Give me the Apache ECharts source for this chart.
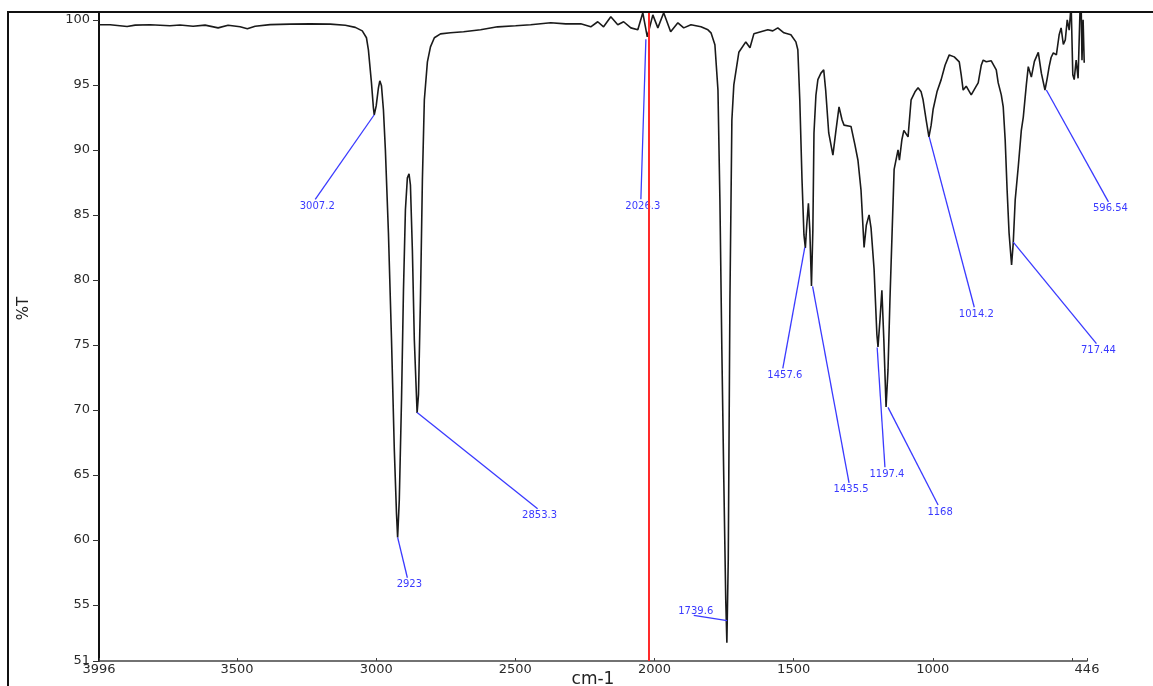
<!DOCTYPE html>
<html>
<head>
<meta charset="utf-8">
<script src="https://cdn.jsdelivr.net/npm/echarts@6/dist/echarts.min.js"></script>
<style>
  html, body { margin: 0; padding: 0; background: #fff; }
  #chart { width: 1153px; height: 686px; }
</style>
</head>
<body>
<div id="chart"></div>
<script>
// IR spectrum, wavenumber (cm-1) vs %T
const wavenumber = [
  3996,3956,3895,3866,3812,3741,3705,3658,3615,3568,
  3532,3489,3463,3435,3381,3309,3237,3165,3111,3075,
  3050,3035,3028,3017,3010,3007,3000,2992,2987,2981,
  2974,2967,2956,2945,2935,2927,2923,2917,2909,2902,
  2895,2888,2882,2877,2870,2863,2853,2848,2841,2834,
  2827,2816,2805,2791,2769,2733,2686,2625,2564,2499,
  2445,2373,2319,2265,2229,2204,2183,2157,2132,2111,
  2085,2060,2042,2026,2006,1988,1967,1942,1916,1895,
  1869,1833,1808,1797,1783,1772,1765,1758,1751,1744,
  1740,1735,1729,1722,1715,1697,1672,1657,1643,1618,
  1593,1575,1557,1535,1510,1492,1485,1478,1470,1463,
  1458,1453,1447,1442,1436,1431,1427,1420,1413,1402,
  1392,1385,1374,1359,1348,1337,1326,1319,1294,1280,
  1269,1258,1247,1239,1229,1222,1211,1201,1197,1190,
  1183,1176,1168,1161,1154,1146,1139,1125,1120,1111,
  1104,1089,1078,1064,1053,1042,1035,1024,1014,1006,
  999,985,970,956,941,934,923,905,898,891,
  880,873,862,855,844,837,826,819,808,801,
  790,783,772,765,754,747,740,733,726,717,
  711,704,693,682,675,664,657,646,635,621,
  610,597,589,582,575,567,556,546,539,531,
  524,517,510,503,497,492,485,478,471,467,
  464,460,456
]
const transmittance = [
  99.62,99.62,99.48,99.59,99.62,99.54,99.6,99.5,99.59,99.38,
  99.58,99.46,99.31,99.5,99.63,99.67,99.69,99.67,99.58,99.42,
  99.15,98.62,97.69,95.15,93.23,92.69,93.38,94.77,95.31,94.92,
  93.08,90.0,83.6,75.4,67.0,62.0,60.2,63.1,70.8,79.2,
  85.4,87.85,88.15,87.3,82.3,75.4,69.77,71.2,78.5,87.7,
  93.85,96.77,97.92,98.62,98.92,99.0,99.08,99.23,99.46,99.54,
  99.62,99.77,99.69,99.69,99.46,99.85,99.46,100.23,99.62,99.85,
  99.38,99.23,100.54,98.69,100.38,99.38,100.54,99.08,99.77,99.38,
  99.62,99.46,99.23,99.0,98.08,94.6,86.15,74.6,64.6,55.4,
  52.1,58.5,78.5,92.3,95.0,97.5,98.3,97.85,98.92,99.08,
  99.23,99.15,99.38,99.0,98.85,98.3,97.7,93.85,87.7,83.46,
  82.46,84.2,85.9,83.85,79.54,83.85,91.3,94.2,95.4,95.9,
  96.15,94.6,91.3,89.6,91.5,93.3,92.3,91.9,91.8,90.4,
  89.2,86.9,82.5,84.2,85.0,84.0,80.8,75.8,74.85,76.9,
  79.2,75.4,70.23,73.1,78.5,83.85,88.5,90.0,89.2,90.8,
  91.5,91.0,93.85,94.46,94.77,94.46,93.85,92.3,91.0,91.9,
  93.1,94.46,95.4,96.5,97.3,97.4,97.15,96.77,95.77,94.6,
  94.9,94.85,94.23,94.1,94.9,95.15,96.5,96.9,96.77,96.7,
  96.85,96.9,96.15,95.15,94.23,93.3,90.77,86.9,83.6,81.15,
  82.85,86.15,88.7,91.5,92.5,95.0,96.4,95.6,96.8,97.5,
  95.9,94.6,95.5,96.4,97.1,97.46,97.3,98.85,99.38,98.1,
  98.46,100.0,99.2,101.2,95.77,95.4,96.9,95.5,100.8,101.2,
  96.9,100.0,96.7
]

// peak annotations: where the leader starts (on the peak) and where its label sits
const peakLabels = ['3007.2', '2923', '2853.3', '2026.3', '1739.6', '1457.6', '1435.5', '1197.4', '1168', '1014.2', '717.44', '596.54']
const peakWn = [3007, 2923, 2853, 2031, 1739, 1460, 1432, 1200, 1161, 1013, 711, 592]
const peakT = [92.7, 60.2, 69.8, 98.5, 53.8, 82.5, 79.5, 74.8, 70.2, 91.0, 82.9, 94.6]
const labelWn = [3219, 2888, 2420, 2049, 1859, 1539, 1301, 1172, 981, 851, 412, 369]
const labelT = [86.2, 57.1, 62.4, 86.2, 54.2, 73.2, 64.4, 65.6, 62.7, 77.9, 75.1, 86.0]

// axis ticks
const xLabelTicks = [3996, 3500, 3000, 2500, 2000, 1500, 1000, 446]
const xTicks = [3996, 3500, 3000, 2500, 2000, 1500, 1000, 500, 446]
const yTicks = [50.7, 55, 60, 65, 70, 75, 80, 85, 90, 95, 100]
const cursorWn = 2022

const FONT = 'DejaVu Sans'
const BLUE = '#3a3aff'

const chart = echarts.init(document.getElementById('chart'), null, { renderer: 'canvas' })

const spectrum = wavenumber.map((w, i) => [w, transmittance[i]])
const annotations = peakWn.map((w, i) => [w, peakT[i], labelWn[i], labelT[i]])

chart.setOption({
  animation: false,
  backgroundColor: '#fff',
  grid: { left: 99, right: 66, top: 12, bottom: 25, containLabel: false, outerBoundsMode: 'none' },
  graphic: [
    {
      // outer frame (left + top edges)
      type: 'polyline',
      shape: { points: [[8, 686], [8, 12], [1153, 12]] },
      style: { stroke: '#111', lineWidth: 2, fill: null },
      silent: true,
      z: 100
    }
  ],
  xAxis: {
    type: 'value',
    inverse: true,
    min: 446,
    max: 3996,
    name: 'cm-1',
    nameLocation: 'middle',
    nameGap: 10,
    nameMoveOverlap: false,
    nameTextStyle: { fontFamily: FONT, fontSize: 17, color: '#222', verticalAlign: 'top' },
    axisLine: { show: true, onZero: false, lineStyle: { color: '#444', width: 1.5 } },
    axisTick: { show: true, inside: true, length: 3, customValues: xTicks, lineStyle: { color: '#444' } },
    axisLabel: {
      customValues: xLabelTicks,
      margin: 2,
      fontFamily: FONT,
      fontSize: 13,
      color: '#2a2a2a',
      showMinLabel: true,
      showMaxLabel: true,
      formatter: v => String(v)
    },
    splitLine: { show: false }
  },
  yAxis: {
    type: 'value',
    min: 50.7,
    max: 100.6,
    name: '%T',
    nameLocation: 'middle',
    nameRotate: 90,
    nameGap: 67,
    // shift the rotated name up a little, as in the original
    nameTextStyle: { fontFamily: FONT, fontSize: 15, color: '#222', padding: [0, 0, 0, 56] },
    axisLine: { show: true, onZero: false, lineStyle: { color: '#111', width: 2 } },
    axisTick: { show: true, inside: false, length: 6, customValues: yTicks, lineStyle: { color: '#333' } },
    axisLabel: {
      customValues: yTicks,
      margin: 9,
      fontFamily: FONT,
      fontSize: 13,
      color: '#2a2a2a',
      formatter: v => String(Math.round(v))
    },
    splitLine: { show: false }
  },
  series: [
    {
      name: 'spectrum',
      type: 'line',
      data: spectrum,
      showSymbol: false,
      symbol: 'none',
      clip: true,
      lineStyle: { color: '#1a1a1a', width: 1.6 },
      z: 3,
      markLine: {
        silent: true,
        symbol: ['none', 'none'],
        label: { show: false },
        lineStyle: { color: '#ff2a2a', width: 2, type: 'solid' },
        data: [{ xAxis: cursorWn }]
      }
    },
    {
      name: 'peaks',
      type: 'custom',
      clip: false,
      silent: true,
      z: 4,
      encode: { x: [0, 2], y: [1, 3] },
      data: annotations,
      renderItem: (params, api) => {
        const p0 = api.coord([api.value(0), api.value(1)])
        const p1 = api.coord([api.value(2), api.value(3)])
        // 1739.6 sits above the end of its leader, the others below
        const above = params.dataIndex === 4
        return {
          type: 'group',
          children: [
            {
              type: 'line',
              shape: { x1: p0[0], y1: p0[1], x2: p1[0], y2: p1[1] },
              style: { stroke: BLUE, lineWidth: 1.3 }
            },
            {
              type: 'text',
              x: p1[0] + 2,
              y: above ? p1[1] + 1 : p1[1] + 2,
              style: {
                text: peakLabels[params.dataIndex],
                fill: BLUE,
                font: '10px "' + FONT + '"',
                align: 'center',
                verticalAlign: above ? 'bottom' : 'top'
              }
            }
          ]
        }
      }
    }
  ]
})
</script>
</body>
</html>
